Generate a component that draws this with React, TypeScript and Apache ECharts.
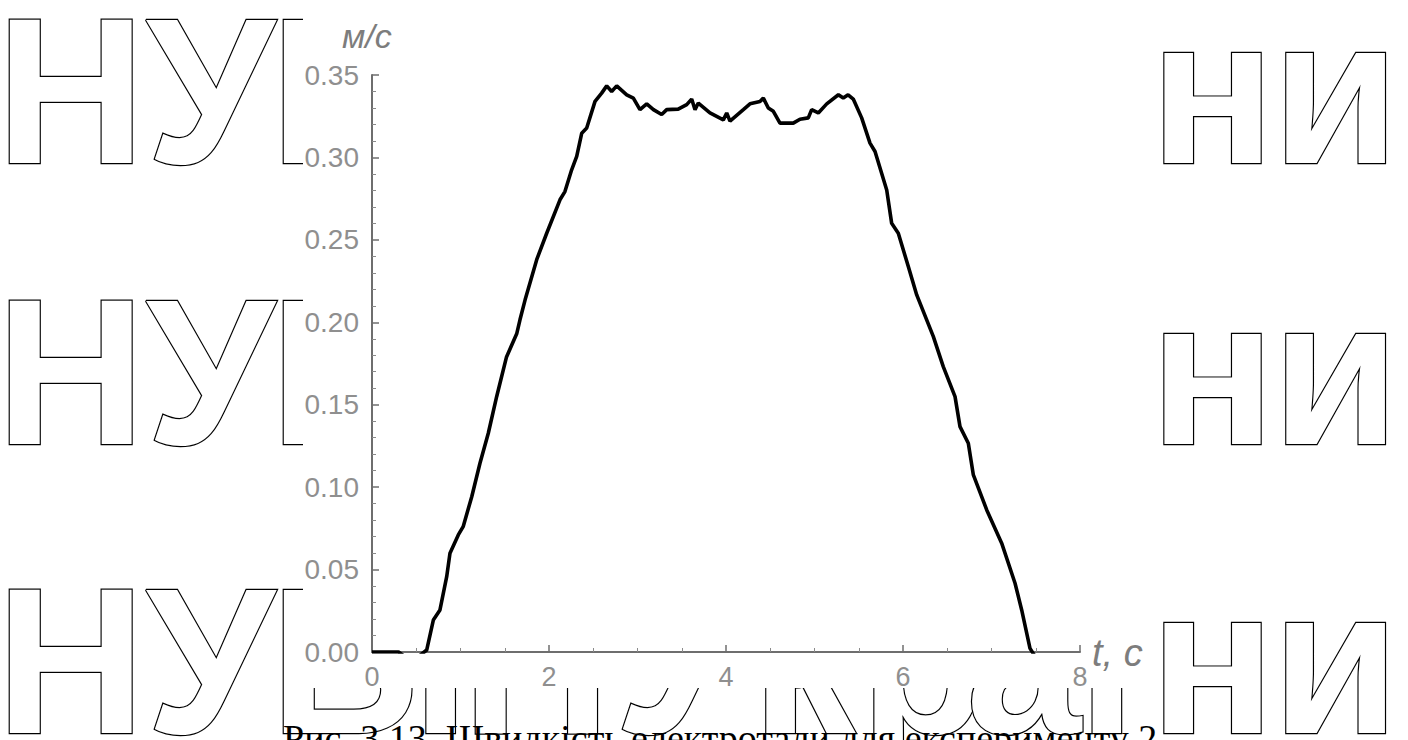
import React, { useEffect, useRef } from "react";
import * as echarts from "echarts";

const tValues = [0, 0.3, 0.45, 0.618, 0.693, 0.768, 0.844, 0.881, 0.975, 1.03, 1.127, 1.22, 1.314, 1.409, 1.52, 1.635, 1.672, 1.73, 1.861, 1.974, 2.124, 2.18, 2.256, 2.313, 2.37, 2.426, 2.52, 2.595, 2.652, 2.708, 2.765, 2.878, 2.953, 3.028, 3.104, 3.18, 3.273, 3.33, 3.46, 3.556, 3.612, 3.65, 3.687, 3.819, 3.97, 4.008, 4.045, 4.196, 4.271, 4.384, 4.422, 4.478, 4.535, 4.61, 4.76, 4.836, 4.93, 4.968, 5.043, 5.138, 5.27, 5.325, 5.38, 5.438, 5.533, 5.627, 5.684, 5.816, 5.872, 5.947, 6.06, 6.155, 6.343, 6.455, 6.588, 6.644, 6.738, 6.795, 6.946, 7.115, 7.266, 7.341, 7.435, 7.52];
const vValues = [0, 0, -0.006, 0.0012, 0.0194, 0.0255, 0.0457, 0.0599, 0.071, 0.076, 0.0942, 0.1145, 0.1327, 0.155, 0.179, 0.193, 0.2015, 0.2136, 0.238, 0.254, 0.2743, 0.2793, 0.2925, 0.3006, 0.3147, 0.3178, 0.334, 0.339, 0.3434, 0.34, 0.3434, 0.338, 0.336, 0.329, 0.3325, 0.329, 0.326, 0.329, 0.3293, 0.332, 0.3354, 0.329, 0.333, 0.327, 0.3228, 0.327, 0.322, 0.329, 0.3325, 0.3339, 0.336, 0.33, 0.328, 0.3208, 0.3208, 0.3232, 0.324, 0.329, 0.327, 0.3325, 0.338, 0.336, 0.338, 0.3354, 0.324, 0.3087, 0.3036, 0.2803, 0.26, 0.254, 0.2338, 0.2166, 0.1913, 0.1731, 0.1549, 0.1367, 0.1266, 0.1074, 0.0862, 0.066, 0.0417, 0.0255, 0.0022, -0.005];

const xTicks = [0, 2, 4, 6, 8];
const yTicks = ["0.00", "0.05", "0.10", "0.15", "0.20", "0.25", "0.30", "0.35"];

const watermarkLetters = ["Н", "У", "Б", "і", "П", "У", "к", "р", "а", "ї", "н", "и"];
const watermarkX = [-4, 146, 270, 412, 462, 614, 752, 860, 966, 1078, 1150, 1272];
const watermarkRowsY = [91, 372, 661];

const caption = "Рис. 3.13. Швидкість електротали для експерименту 2";

export default function App() {
  const ref = useRef<HTMLDivElement>(null);
  useEffect(() => {
    document.body.style.margin = "0";
    const chart = echarts.init(ref.current!, undefined, { renderer: "svg" });
    const data = tValues.map((t, i) => [t, vValues[i]]);
    const graphics: any[] = [];
    watermarkRowsY.forEach((y) => {
      watermarkLetters.forEach((ch, i) => {
        graphics.push({
          type: "text",
          z: -20,
          x: watermarkX[i],
          y,
          style: {
            text: ch,
            font: 'bold 207px "Liberation Sans"',
            fill: "#ffffff",
            stroke: "#000000",
            lineWidth: 2.4,
            lineJoin: "round",
            verticalAlign: "middle",
            align: "left",
          },
        });
      });
    });
    graphics.push({
      type: "rect",
      z: -10,
      shape: { x: 303, y: 0, width: 855, height: 688 },
      style: { fill: "#ffffff" },
    });
    graphics.push({
      type: "text",
      z: 10,
      x: 342,
      y: 36,
      style: {
        text: "м/с",
        font: 'italic 34px "Liberation Sans"',
        fill: "#7d7d7d",
        verticalAlign: "middle",
      },
    });
    graphics.push({
      type: "text",
      z: 10,
      x: 1092,
      y: 653,
      style: {
        text: "t, c",
        font: 'italic 38px "Liberation Sans"',
        fill: "#7d7d7d",
        verticalAlign: "middle",
      },
    });
    graphics.push({
      type: "text",
      z: 10,
      x: 283,
      y: 719,
      style: {
        text: caption,
        font: '38px "Liberation Serif"',
        fill: "#000000",
        verticalAlign: "top",
      },
    });

    chart.setOption({
      animation: false,
      backgroundColor: "#ffffff",
      grid: { left: 372, right: 328, top: 75, bottom: 88 },
      xAxis: {
        type: "value",
        min: 0,
        max: 8,
        interval: 2,
        axisLine: { show: true, lineStyle: { color: "#6e6e6e", width: 2 } },
        axisTick: { show: true, inside: true, length: 7, lineStyle: { color: "#6e6e6e", width: 1.5 } },
        minorTick: { show: true, splitNumber: 4, length: 4, lineStyle: { color: "#8a8a8a", width: 1 } },
        splitLine: { show: false },
        axisLabel: {
          color: "#8f8f8f",
          fontSize: 27,
          fontFamily: "Liberation Sans",
          margin: 11,
          formatter: (v: number) => (xTicks.includes(v) ? String(v) : ""),
        },
      },
      yAxis: {
        type: "value",
        min: 0,
        max: 0.35,
        interval: 0.05,
        axisLine: { show: true, lineStyle: { color: "#6e6e6e", width: 2 } },
        axisTick: { show: true, inside: true, length: 7, lineStyle: { color: "#6e6e6e", width: 1.5 } },
        minorTick: { show: true, splitNumber: 5, length: 4, lineStyle: { color: "#8a8a8a", width: 1 } },
        splitLine: { show: false },
        axisLabel: {
          color: "#8f8f8f",
          fontSize: 28,
          fontFamily: "Liberation Sans",
          margin: 13,
          formatter: (v: number) => yTicks[Math.round(v / 0.05)] ?? "",
        },
      },
      graphic: graphics,
      series: [
        {
          type: "line",
          data,
          showSymbol: false,
          clip: true,
          lineStyle: { color: "#000000", width: 3.6 },
        },
      ],
    });
    return () => chart.dispose();
  }, []);
  return <div ref={ref} style={{ width: 1408, height: 740 }} />;
}
